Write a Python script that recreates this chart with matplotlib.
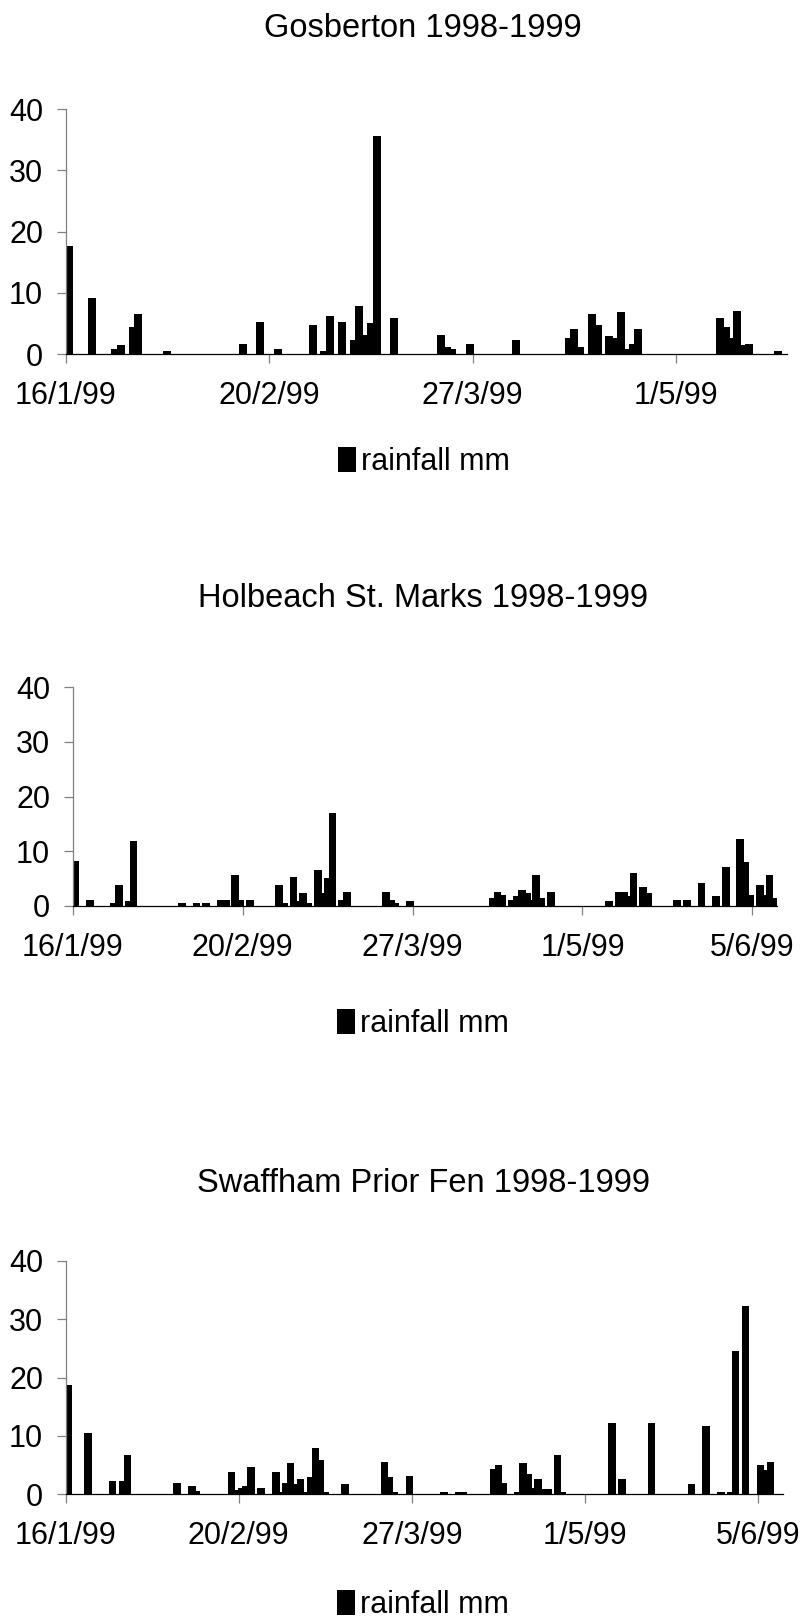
import matplotlib
matplotlib.use("Agg")

import matplotlib.pyplot as plt
from matplotlib.patches import Patch
import numpy as np

plt.rcParams["font.family"] = ["Liberation Sans", "DejaVu Sans"]

FONT_SIZE = 22
TITLE_SIZE = 23.5
AXIS_GREY = "#808080"

# x values are days after 16/1/99, y values are daily rainfall in mm
GOS_DAYS = [0, 4, 8, 9, 11, 12, 17, 30, 33, 36, 42, 44, 45, 47, 49, 50, 51, 52,
            53, 56, 64, 65, 66, 69, 77, 86, 87, 88, 90, 91, 93, 94, 95, 96, 97,
            98, 112, 113, 114, 115, 116, 117, 122]
GOS_RAIN = [17.6, 9.2, 0.8, 1.4, 4.4, 6.5, 0.5, 1.7, 5.3, 0.8, 4.7, 0.5, 6.2,
            5.3, 2.3, 7.9, 3.1, 5.0, 35.6, 5.8, 3.1, 1.1, 0.8, 1.6, 2.3, 2.6,
            4.1, 1.1, 6.5, 4.7, 2.9, 2.6, 6.8, 0.8, 1.6, 4.1, 5.8, 4.4, 2.6,
            7.1, 1.4, 1.6, 0.5]

HOL_DAYS = [0, 3, 8, 9, 11, 12, 22, 25, 27, 30, 31, 33, 34, 36, 42, 43, 45, 46,
            47, 48, 50, 51, 52, 53, 55, 56, 64, 65, 66, 69, 86, 87, 88, 90, 91,
            92, 93, 94, 95, 96, 98, 110, 112, 113, 114, 115, 117, 118, 124, 126,
            129, 132, 134, 137, 138, 139, 141, 142, 143, 144]
HOL_RAIN = [8.1, 1.1, 0.5, 3.8, 0.8, 11.9, 0.5, 0.5, 0.5, 1.1, 1.1, 5.6, 1.1,
            1.1, 3.8, 0.5, 5.3, 0.8, 2.3, 0.5, 6.5, 2.3, 5.0, 17.0, 1.1, 2.6,
            2.6, 1.1, 0.5, 0.8, 1.35, 2.6, 1.95, 1.1, 1.7, 2.9, 2.3, 1.1, 5.6,
            1.35, 2.6, 0.8, 2.6, 2.6, 1.7, 5.9, 3.5, 2.3, 1.1, 1.1, 4.1, 1.7,
            7.1, 12.2, 8.0, 1.95, 3.8, 1.95, 5.6, 1.35]

SWA_DAYS = [0, 4, 9, 11, 12, 22, 25, 26, 33, 34, 35, 36, 37, 39, 42, 43, 44, 45,
            46, 47, 48, 49, 50, 51, 52, 56, 64, 65, 66, 69, 76, 79, 80, 86, 87,
            88, 91, 92, 93, 94, 95, 96, 97, 99, 100, 110, 112, 118, 126, 129,
            132, 134, 135, 137, 140, 141, 142]
SWA_RAIN = [18.8, 10.5, 2.3, 2.3, 6.8, 2.0, 1.4, 0.5, 3.8, 0.8, 1.1, 1.4, 4.7,
            1.1, 3.8, 0.45, 2.0, 5.3, 1.7, 2.6, 0.45, 2.9, 8.0, 5.9, 0.45, 1.7,
            5.6, 2.9, 0.45, 3.2, 0.45, 0.45, 0.45, 4.4, 5.0, 2.0, 0.45, 5.3,
            3.5, 1.0, 2.6, 0.85, 0.85, 6.8, 0.45, 12.2, 2.6, 12.2, 1.7, 11.7,
            0.45, 0.45, 24.5, 32.3, 5.0, 4.1, 5.6]

TICK_DAYS = [0, 35, 70, 105, 140]
TICK_LABELS = ["16/1/99", "20/2/99", "27/3/99", "1/5/99", "5/6/99"]
Y_TICKS = [0, 10, 20, 30, 40]

TITLES = ["Gosberton 1998-1999", "Holbeach St. Marks 1998-1999",
          "Swaffham Prior Fen 1998-1999"]

# panel geometry in pixels of the 800x1621 canvas: x0, x1, y_top, y_bottom
PANELS = [
    dict(days=GOS_DAYS, rain=GOS_RAIN, span=124, box=(65.7, 786.7, 109, 354),
         bar_w=1.38, title_y=37.3, legend=(424, 462)),
    dict(days=HOL_DAYS, rain=HOL_RAIN, span=145, box=(72.7, 776.7, 687.3, 905.7),
         bar_w=1.6, title_y=607.3, legend=(423, 1024)),
    dict(days=SWA_DAYS, rain=SWA_RAIN, span=145, box=(65.7, 782.7, 1261, 1494.3),
         bar_w=1.5, title_y=1191.7, legend=(423, 1605)),
]

W, H = 800, 1621


def main():
    fig = plt.figure(figsize=(W / 100, H / 100), dpi=100, facecolor="white")

    for p, title in zip(PANELS, TITLES):
        x0, x1, yt, yb = p["box"]
        ax = fig.add_axes([x0 / W, 1 - yb / H, (x1 - x0) / W, (yb - yt) / H])
        ax.bar(np.array(p["days"]) + 0.5, p["rain"], width=p["bar_w"],
               color="black", linewidth=0)
        ax.set_xlim(0, p["span"])
        ax.set_ylim(0, 40)

        ticks = [t for t in TICK_DAYS if t <= p["span"]]
        ax.set_xticks(ticks)
        ax.set_xticklabels(TICK_LABELS[:len(ticks)])
        ax.set_yticks(Y_TICKS)

        for side in ("top", "right"):
            ax.spines[side].set_visible(False)
        ax.spines["left"].set_color(AXIS_GREY)
        ax.spines["bottom"].set_color("black")
        ax.spines["left"].set_linewidth(0.9)
        ax.spines["bottom"].set_linewidth(0.9)

        ax.tick_params(axis="y", direction="out", length=6.3, width=0.9,
                       color=AXIS_GREY, labelsize=FONT_SIZE, pad=10)
        ax.tick_params(axis="x", direction="out", length=6.5, width=0.9,
                       color=AXIS_GREY, labelsize=FONT_SIZE, pad=13)

        fig.text(423 / W, 1 - p["title_y"] / H, title, ha="center",
                 va="baseline", fontsize=TITLE_SIZE)

        lx, ly = p["legend"]
        fig.legend(handles=[Patch(facecolor="black", edgecolor="none")],
                   labels=["rainfall mm"], loc="center",
                   bbox_to_anchor=(lx / W, 1 - ly / H), frameon=False,
                   fontsize=FONT_SIZE, handlelength=0.6, handleheight=0.85,
                   handletextpad=0.15, borderpad=0, borderaxespad=0)

    fig.savefig("out.png", dpi=100, facecolor="white")
    plt.close(fig)


if __name__ == "__main__":
    main()
